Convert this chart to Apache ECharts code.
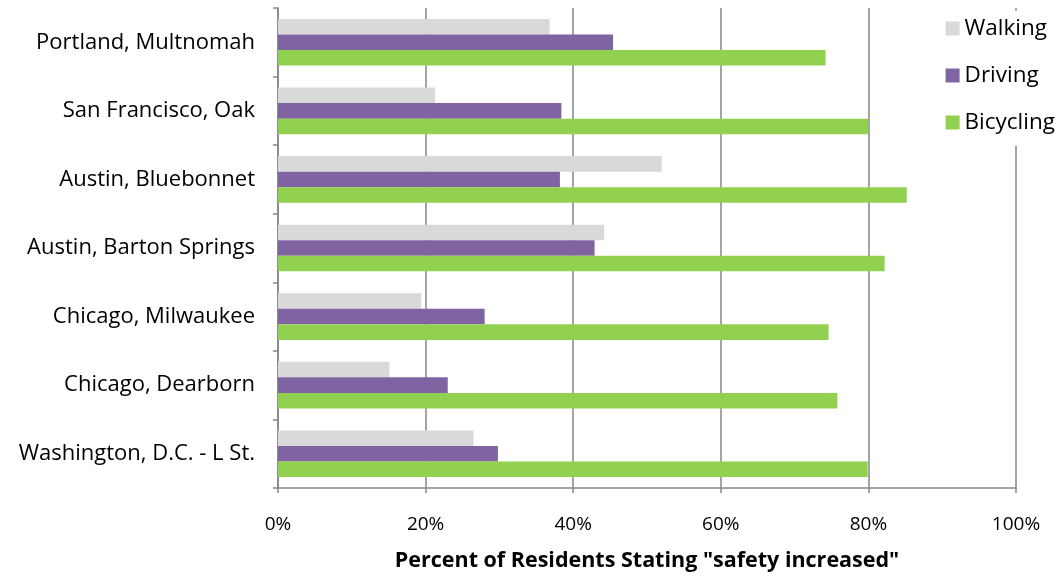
<!DOCTYPE html>
<html><head><meta charset="utf-8">
<script src="https://cdn.jsdelivr.net/npm/echarts@6/dist/echarts.min.js"></script>
<style>html,body{margin:0;padding:0;background:#fff}#c{width:1058px;height:577px}</style>
</head><body><div id="c"></div>
<script>
var categories = ["Portland, Multnomah","San Francisco, Oak","Austin, Bluebonnet","Austin, Barton Springs","Chicago, Milwaukee","Chicago, Dearborn","Washington, D.C. - L St."];
var walking = [36.8, 21.3, 52.0, 44.2, 19.4, 15.1, 26.5];
var driving = [45.4, 38.4, 38.2, 42.9, 28.0, 23.0, 29.8];
var bicycling = [74.2, 80.0, 85.2, 82.2, 74.6, 75.8, 79.9];
var xTicks = ["0%","20%","40%","60%","80%","100%"];

var FONT = '"Open Sans", sans-serif';
var chart = echarts.init(document.getElementById('c'), null, {renderer:'canvas'});
chart.setOption({
  animation:false,
  backgroundColor:'#fff',
  textStyle:{fontFamily:FONT},
  grid:{left:278, right:42, top:8, bottom:86, containLabel:false},
  legend:{
    orient:'vertical', right:1, top:11, itemGap:24, itemWidth:14, itemHeight:14,
    backgroundColor:'#fff', padding:[6,2,12,8],
    icon:'rect',
    textStyle:{fontSize:22.5, color:'#000', fontFamily:FONT},
    data:['Walking','Driving','Bicycling']
  },
  xAxis:{
    type:'value', min:0, max:100, interval:20,
    name:'Percent of Residents Stating "safety increased"',
    nameLocation:'middle', nameGap:62,
    nameTextStyle:{fontSize:21.5, fontWeight:'bold', color:'#000', fontFamily:FONT},
    axisLine:{show:true, lineStyle:{color:'#868686', width:1.5}},
    axisTick:{show:true, length:5, lineStyle:{color:'#868686', width:1.5}},
    axisLabel:{fontSize:19, color:'#000', margin:27, formatter:function(v){return xTicks[Math.round(v/20)];}},
    splitLine:{show:true, lineStyle:{color:'#868686', width:1.5}}
  },
  yAxis:{
    type:'category', data:categories, inverse:true,
    axisLine:{show:true, lineStyle:{color:'#868686', width:1.5}},
    axisTick:{show:true, length:5, lineStyle:{color:'#868686', width:1.5}},
    axisLabel:{fontSize:22, color:'#000', margin:23, padding:[5,0,0,0]}
  },
  series:[
    {name:'Walking', type:'bar', data:walking, barGap:'0%', barCategoryGap:'32%', itemStyle:{color:'#d9d9d9'}},
    {name:'Driving', type:'bar', data:driving, barGap:'0%', barCategoryGap:'32%', itemStyle:{color:'#8064a2'}},
    {name:'Bicycling', type:'bar', data:bicycling, barGap:'0%', barCategoryGap:'32%', itemStyle:{color:'#92d050'}}
  ]
});
</script></body></html>
